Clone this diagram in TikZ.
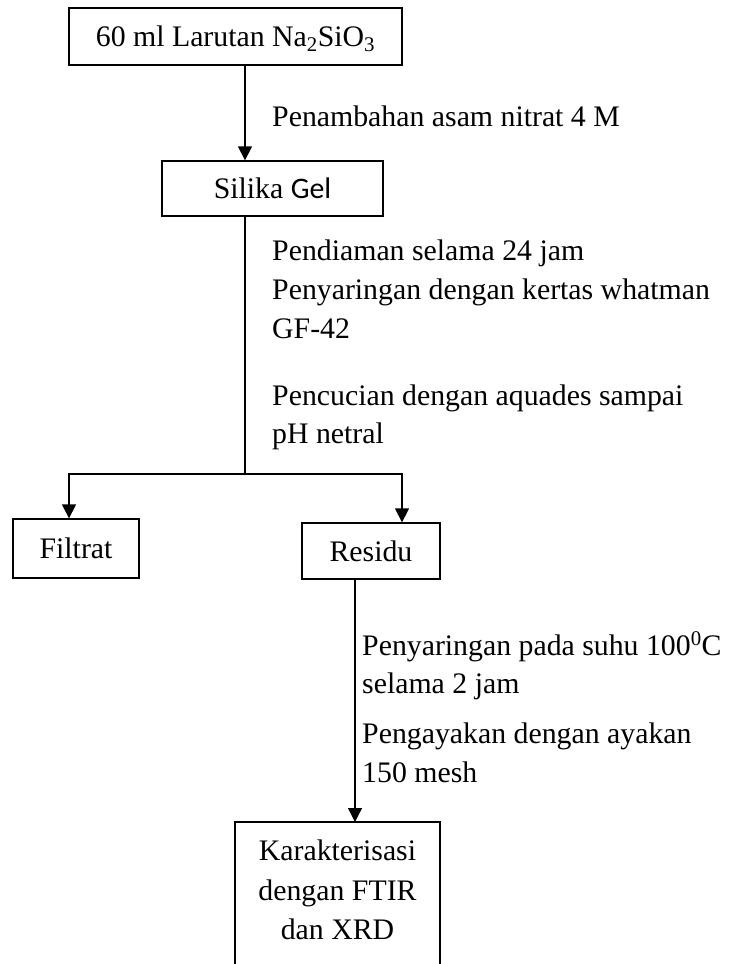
\documentclass[tikz,border=0pt]{standalone}
\usepackage{fontspec}
\setmainfont{Liberation Serif}
\newfontfamily\gelfont{Carlito}
\usetikzlibrary{arrows.meta}
\begin{document}
\begin{tikzpicture}[x=1pt,y=-1pt,
  font=\fontsize{29.8}{36}\selectfont,
  box/.style={draw,line width=1.3pt,inner sep=0pt,text height=20pt,text depth=0pt},
  lbl/.style={anchor=base west,inner sep=0pt},
  ctr/.style={anchor=base,inner sep=0pt},
  ln/.style={line width=1.3pt},
  arr/.style={line width=1.3pt,-{Triangle[length=14pt,width=14pt]}}]
\useasboundingbox (0,0) rectangle (730,964);

% boxes
\node[box,minimum width=333pt,minimum height=57pt] (na) at (235.5,36.5) {60 ml Larutan Na\textsubscript{2}SiO\textsubscript{3}};
\node[box,minimum width=221pt,minimum height=55pt] (sil) at (272.5,188.5) {Silika {\gelfont Gel}};
\node[box,minimum width=126pt,minimum height=59pt] (fil) at (76,548.5) {Filtrat};
\node[box,minimum width=138pt,minimum height=56pt] (res) at (371,551) {Residu};
\node[inner sep=0pt,outer sep=0pt,minimum width=205pt,minimum height=150pt] (kar) at (337.5,897) {};
\draw[ln] (kar.south west) -- (kar.north west) -- (kar.north east) -- (kar.south east);
\node[ctr] (k1) at (337.5,860) {Karakterisasi};
\node[ctr] (k2) at (337.5,900) {dengan FTIR};
\node[ctr] (k3) at (337.5,939) {dan XRD};

% connectors
\coordinate (sp) at (245,0);
\coordinate (j) at (245,474);
\coordinate (jl) at (69,474);
\coordinate (jr) at (402,474);
\coordinate (rs) at (355,0);
\draw[arr] (na.south -| sp) -- (sil.north -| sp);
\draw[ln] (sil.south -| j) -- (j);
\draw[arr] (j) -- (jl) -- (jl |- fil.north);
\draw[arr] (j) -- (jr) -- (jr |- res.north);
\draw[arr] (res.south -| rs) -- (kar.north -| rs);

% labels
\node[lbl] (t1) at (272,126) {Penambahan asam nitrat 4 M};
\node[lbl] (t2) at (272,260) {Pendiaman selama 24 jam};
\node[lbl] (t3) at (272,299) {Penyaringan dengan kertas whatman};
\node[lbl] (t4) at (272,338) {GF-42};
\node[lbl] (t5) at (272,405) {Pencucian dengan aquades sampai};
\node[lbl] (t6) at (272,443) {pH netral};
\node[lbl] (t7) at (362,655) {Penyaringan pada suhu 100\textsuperscript{0}C};
\node[lbl] (t8) at (362,693) {selama 2 jam};
\node[lbl] (t9) at (362,743) {Pengayakan dengan ayakan};
\node[lbl] (t10) at (362,782) {150 mesh};
\end{tikzpicture}
\end{document}
